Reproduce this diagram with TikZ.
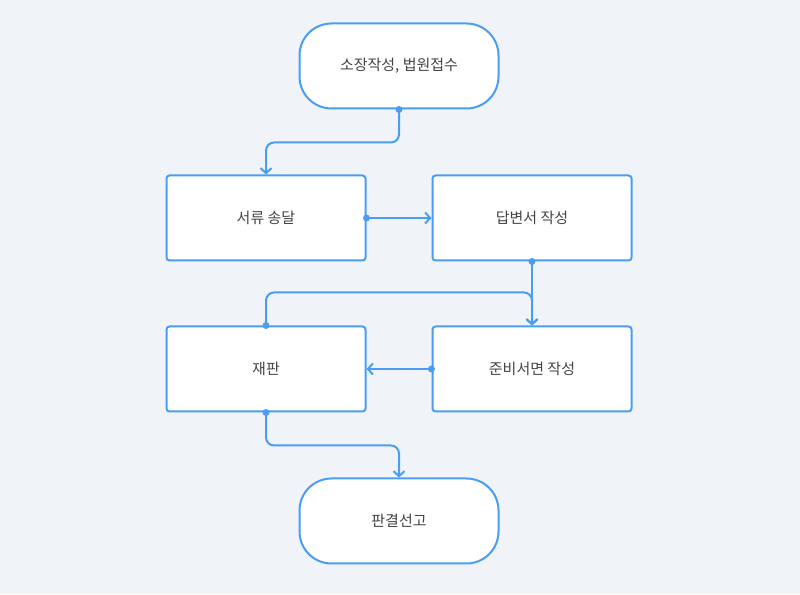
\documentclass[tikz,border=0pt]{standalone}
\usepackage{fontspec}
\setmainfont{Noto Sans CJK KR}
\usetikzlibrary{arrows.meta,positioning}
\definecolor{flowblue}{HTML}{4A9DF3}
\definecolor{flowbg}{HTML}{F0F4F8}
\definecolor{flowtext}{HTML}{444444}
\tikzset{
  process/.style={rectangle, draw=flowblue, fill=white, line width=2pt, rounded corners=3pt, minimum width=199pt, minimum height=85pt, font=\fontsize{15}{17}\selectfont, text=flowtext},
  terminal/.style={process, rounded corners=32pt},
  flow/.style={draw=flowblue, line width=2pt, rounded corners=8pt, -{Straight Barb[length=5pt,width=11pt]}},
  joint/.style={circle, fill=flowblue, inner sep=0pt, minimum size=7pt}
}
\begin{document}
\begin{tikzpicture}[x=1pt,y=1pt]
		\fill[flowbg] (0,0) rectangle (800,594);
		\useasboundingbox (0,0) rectangle (800,594);

		\node[terminal](start) at (399,528){소장작성, 법원접수};
		\node[process](serve) at (266,376){서류 송달};
		\node[process](answer) at (532,376){답변서 작성};
		\node[process](trial) at (266,225){재판};
		\node[process](brief) at (532,225){준비서면 작성};
		\node[terminal](verdict) at (399,73){판결선고};

		\draw [flow] (start.south) -- ++(0,-33) -| (serve.north);
		\draw [flow] (serve.east) -- (answer.west);
		\draw [flow] (answer.south) -- (brief.north);
		\draw [flow] (trial.north) -- ++(0,33) -| (brief.north);
		\draw [flow] (brief.west) -- (trial.east);
		\draw [flow] (trial.south) -- ++(0,-33) -| (verdict.north);

		\node[joint] at (start.south){};
		\node[joint] at (serve.east){};
		\node[joint] at (answer.south){};
		\node[joint] at (trial.north){};
		\node[joint] at (brief.west){};
		\node[joint] at (trial.south){};
\end{tikzpicture}
\end{document}
